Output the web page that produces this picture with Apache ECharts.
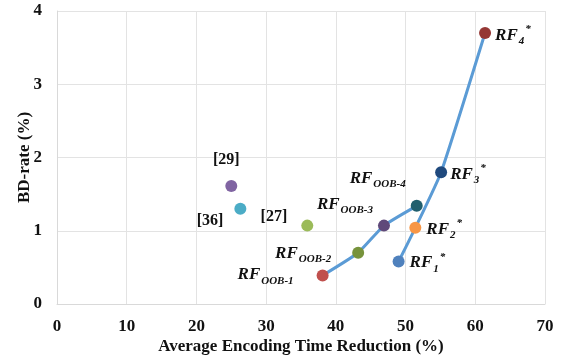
<!DOCTYPE html>
<html>
<head>
<meta charset="utf-8">
<script src="https://cdn.jsdelivr.net/npm/echarts@6/dist/echarts.min.js"></script>
<style>
  html, body { margin: 0; padding: 0; background: #fff; }
  #chart { width: 566px; height: 360px; }
</style>
</head>
<body>
<div id="chart"></div>
<script>
// point data: [time reduction %, BD-rate %]
const oobNames = ['OOB-1', 'OOB-2', 'OOB-3', 'OOB-4']
const oobPoints = [[38.1, 0.39], [43.2, 0.70], [46.9, 1.07], [51.6, 1.34]]
const oobColors = ['#c0504d', '#77933c', '#5f497a', '#215f6e']

const rfNames = ['1', '2', '3', '4']
const rfPoints = [[49.0, 0.58], [51.4, 1.04], [55.1, 1.80], [61.4, 3.70]]
const rfColors = ['#4f81bd', '#f79646', '#1f497d', '#953735']

const refNames = ['[29]', '[36]', '[27]']
const refPoints = [[25.0, 1.61], [26.3, 1.30], [35.9, 1.07]]
const refColors = ['#8064a2', '#4bacc6', '#9bbb59']

const xTicks = [0, 10, 20, 30, 40, 50, 60, 70]
const yTicks = [0, 1, 2, 3, 4]

const serif = '"Liberation Serif", "DejaVu Serif", serif'
const rich = {
  rf: { fontFamily: serif, fontSize: 17, fontWeight: 'bold', fontStyle: 'italic', color: '#111', lineHeight: 18, padding: [4, 0, 0, 0], verticalAlign: 'top' },
  sub: { fontFamily: serif, fontSize: 11, fontWeight: 'bold', fontStyle: 'italic', color: '#111', lineHeight: 12, padding: [13, 0, 0, 1], verticalAlign: 'top' },
  sup: { fontFamily: serif, fontSize: 11, fontWeight: 'bold', fontStyle: 'italic', color: '#111', lineHeight: 10, padding: [1, 0, 0, 1], verticalAlign: 'top' }
}

// label placement per point (offsets in px)
const oobLabel = [
  { position: 'left', distance: 23, offset: [0, -4] },
  { position: 'left', distance: 21, offset: [0, -3] },
  { position: 'left', distance: 5, offset: [0, -25] },
  { position: 'left', distance: 5, offset: [0, -31] }
]
const rfLabel = [
  { position: 'right', distance: 5, offset: [0, -2] },
  { position: 'right', distance: 5, offset: [0, -2] },
  { position: 'right', distance: 3, offset: [0, -1] },
  { position: 'right', distance: 4, offset: [0, -1] }
]
const refLabel = [
  { position: 'top', distance: 12, offset: [-5, 0] },
  { position: 'left', distance: 11, offset: [0, 12] },
  { position: 'left', distance: 14, offset: [0, -9] }
]

const chart = echarts.init(document.getElementById('chart'))

const oobData = oobPoints.map((p, i) => ({
  value: p,
  itemStyle: { color: oobColors[i] },
  label: Object.assign({ show: true, formatter: '{rf|RF}{sub|' + oobNames[i] + '}', rich: rich }, oobLabel[i])
}))
const rfData = rfPoints.map((p, i) => ({
  value: p,
  itemStyle: { color: rfColors[i] },
  label: Object.assign({ show: true, formatter: '{rf|RF}{sub|' + rfNames[i] + '}{sup|*}', rich: rich }, rfLabel[i])
}))
const refData = refPoints.map((p, i) => ({
  value: p,
  itemStyle: { color: refColors[i], opacity: 1 },
  label: Object.assign({
    show: true,
    formatter: refNames[i],
    fontFamily: serif,
    fontSize: 16,
    fontWeight: 'bold',
    color: '#111'
  }, refLabel[i])
}))

const tickText = { fontFamily: serif, fontSize: 17, fontWeight: 'bold', color: '#111' }

const option = {
  animation: false,
  grid: { left: 57, right: 21, top: 11, bottom: 56 },
  xAxis: {
    type: 'value',
    min: xTicks[0],
    max: xTicks[xTicks.length - 1],
    interval: 10,
    name: 'Average Encoding Time Reduction (%)',
    nameLocation: 'middle',
    nameGap: 34,
    nameMoveOverlap: false,
    nameTextStyle: { fontFamily: serif, fontSize: 17, fontWeight: 'bold', color: '#111' },
    axisLine: { show: true, lineStyle: { color: '#d9d9d9' } },
    axisTick: { show: false },
    axisLabel: Object.assign({ margin: 14 }, tickText),
    splitLine: { show: true, lineStyle: { color: '#e3e3e3' } }
  },
  yAxis: {
    type: 'value',
    min: yTicks[0],
    max: yTicks[yTicks.length - 1],
    interval: 1,
    name: 'BD-rate (%)',
    nameLocation: 'middle',
    nameGap: 24,
    nameMoveOverlap: false,
    nameTextStyle: { fontFamily: serif, fontSize: 17, fontWeight: 'bold', color: '#111' },
    axisLine: { show: true, lineStyle: { color: '#d9d9d9' } },
    axisTick: { show: false },
    axisLabel: Object.assign({ margin: 15 }, tickText),
    splitLine: { show: true, lineStyle: { color: '#e3e3e3' } }
  },
  series: [
    {
      name: 'RF-OOB',
      type: 'line',
      smooth: 0.15,
      data: oobData,
      symbol: 'circle',
      symbolSize: 12,
      lineStyle: { color: '#5b9bd5', width: 3 },
      z: 3
    },
    {
      name: 'RF',
      type: 'line',
      smooth: 0.15,
      data: rfData,
      symbol: 'circle',
      symbolSize: 12,
      lineStyle: { color: '#5b9bd5', width: 3 },
      z: 3
    },
    {
      name: 'refs',
      type: 'scatter',
      data: refData,
      symbol: 'circle',
      symbolSize: 12,
      z: 4
    }
  ]
}

chart.setOption(option)
</script>
</body>
</html>
